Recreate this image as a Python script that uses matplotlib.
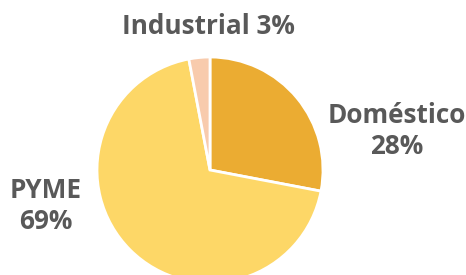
import matplotlib
matplotlib.use("Agg")
import matplotlib.pyplot as plt

categories = ["Doméstico", "PYME", "Industrial"]
values = [28, 69, 3]
colors = ["#EBAC32", "#FDD767", "#F8CBAD"]

fig = plt.figure(figsize=(4.66, 2.75), dpi=100)
ax = fig.add_axes([0, 0, 1, 1])
ax.pie(values, colors=colors, startangle=90, counterclock=False,
       center=(210, 105), radius=113,
       wedgeprops=dict(edgecolor="white", linewidth=2))
ax.set_xlim(0, 466)
ax.set_ylim(0, 275)
ax.set_aspect("auto")
ax.axis("off")

tc = "#595959"
fp = dict(family="Open Sans", weight="bold", fontsize=18.8, color=tc,
          ha="center", va="center", linespacing=1.15)
ax.text(208, 248, f"{categories[2]} {values[2]}%", **fp)
ax.text(397, 144, f"{categories[0]}\n{values[0]}%", **fp)
ax.text(46, 69, f"{categories[1]}\n{values[1]}%", **fp)

fig.savefig("out.png", dpi=100)
